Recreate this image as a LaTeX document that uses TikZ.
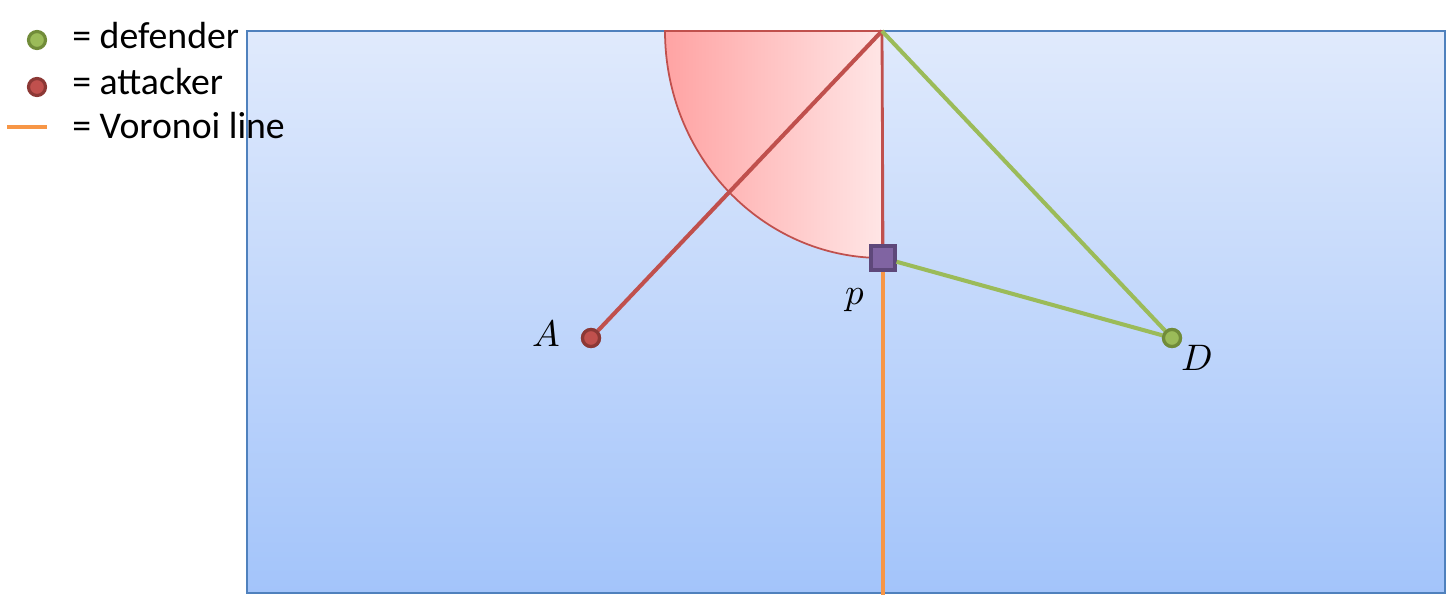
\documentclass[tikz,border=0pt]{standalone}
\usepackage{fontspec}
\setmainfont{Carlito}
\usepackage{unicode-math}
\usetikzlibrary{positioning}

\definecolor{fieldtop}{RGB}{224,234,252}
\definecolor{fieldbot}{RGB}{163,196,250}
\definecolor{fieldedge}{RGB}{79,129,189}
\definecolor{attred}{RGB}{192,80,77}
\definecolor{attdark}{RGB}{140,56,53}
\definecolor{defgreen}{RGB}{155,187,89}
\definecolor{defdark}{RGB}{113,140,57}
\definecolor{voronoi}{RGB}{247,150,70}
\definecolor{ppurple}{RGB}{128,100,162}
\definecolor{pdark}{RGB}{94,72,122}

\begin{document}
\begin{tikzpicture}[
  x=0.02cm,y=0.02cm,
  defdot/.style={circle,draw=defdark,fill=defgreen,line width=1.8pt,minimum size=0.34cm,inner sep=0pt},
  attdot/.style={circle,draw=attdark,fill=attred,line width=1.8pt,minimum size=0.34cm,inner sep=0pt},
  pointbox/.style={rectangle,draw=pdark,fill=ppurple,line width=1.8pt,minimum size=0.48cm,inner sep=0pt},
  legendtext/.style={font=\fontsize{21.5}{24}\selectfont,anchor=base west,inner sep=0pt},
  ptlabel/.style={font=\fontsize{21}{24}\selectfont},
  attline/.style={draw=attred,line width=2.3pt},
  defline/.style={draw=defgreen,line width=2.3pt},
]
\useasboundingbox (0,0) rectangle (1455,-604);

% Field
\shade[top color=fieldtop,bottom color=fieldbot] (247,-31) rectangle (1445,-593);
\draw[fieldedge,line width=1.2pt] (247,-31) rectangle (1445,-593);

% Points
\coordinate (corner) at (882,-31);
\coordinate (bottom) at (883,-595);
\node[attdot] (A) at (591,-338) {};
\node[defdot] (D) at (1172,-338) {};

% Attacker region
\shade[left color=red!36!white,right color=red!10!white,draw=attred,line width=1pt]
  (corner) -- (665,-31) arc[start angle=180,end angle=270,x radius=217,y radius=227] -- cycle;

% Voronoi line
\draw[voronoi,line width=2.3pt] (883,-258) -- (bottom);

% Connectors
\draw[attline] (corner) -- (A);
\draw[attred,line width=1.6pt] (corner) -- (883,-258);
\draw[defline] (corner) -- (D);
\node[pointbox] (p) at (883,-258) {};
\draw[defline] (p) -- (D);
\node[attdot] at (A) {};
\node[defdot] at (D) {};

% Labels
\node[ptlabel] (Alabel) at (546,-333) {$A$};
\node[ptlabel] (Dlabel) at (1197,-358) {$D$};
\node[ptlabel] (plabel) at (855,-300) {$p$};

% Legend
\node[defdot] (legdef) at (37,-40) {};
\node[attdot] (legatt) at (37,-87) {};
\coordinate (legvl) at (7,-127);
\coordinate (legvr) at (47,-127);
\draw[voronoi,line width=2.3pt] (legvl) -- (legvr);
\node[legendtext] (tdef) at (72,-49) {= defender};
\node[legendtext] (tatt) at (72,-95) {= attacker};
\node[legendtext] (tvor) at (72,-139) {= Voronoi line};

\end{tikzpicture}
\end{document}
